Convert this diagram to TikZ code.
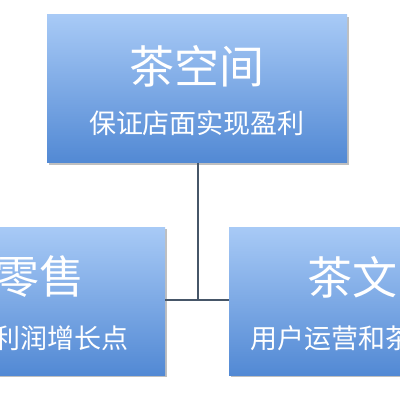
\documentclass[tikz,border=0pt]{standalone}
\usepackage{fontspec}
\setmainfont{Noto Sans CJK SC}
\usetikzlibrary{shadows}
\definecolor{boxtop}{RGB}{168,202,246}
\definecolor{boxbot}{RGB}{82,137,212}
\definecolor{wire}{RGB}{70,86,104}
\tikzset{
  tbox/.style={rectangle, minimum width=300pt, minimum height=148pt, inner sep=0pt,
    top color=boxtop, bottom color=boxbot, draw=none,
    drop shadow={shadow xshift=1.5pt, shadow yshift=-2pt, fill=black, opacity=0.25}},
  bigtxt/.style={text=white, inner sep=0pt, font=\fontsize{45}{50}\selectfont},
  subtxt/.style={text=white, inner sep=0pt, font=\fontsize{27}{30}\selectfont},
  wireline/.style={draw=wire, line width=1.6pt}
}
\begin{document}
\begin{tikzpicture}[x=1pt,y=-1pt]
  \useasboundingbox (0,0) rectangle (400,400);
  \clip (0,0) rectangle (400,400);
  \fill[white] (0,0) rectangle (400,400);
  % Draw the three boxes
  \node[tbox] (top) at (197,88.5) {};
  \node[tbox] (left) at (15,301) {};
  \node[tbox] (right) at (379,301) {};
  % Titles and notes
  \node[bigtxt] (topTitle) at (197,66) {茶空间};
  \node[subtxt] (topNote) at (197,123) {保证店面实现盈利};
  \node[bigtxt, anchor=east] (leftTitle) at (85,277) {零售};
  \node[subtxt, anchor=east] (leftNote) at (129,338) {利润增长点};
  \node[bigtxt, anchor=west] (rightTitle) at (307,277) {茶文};
  \node[subtxt, anchor=west] (rightNote) at (250,338) {用户运营和茶};
  % Connector
  \coordinate (hub) at (198,300);
  \draw[wireline] (top.south -| hub) -- (hub);
  \draw[wireline] (left.east |- hub) -- (right.west |- hub);
\end{tikzpicture}
\end{document}
